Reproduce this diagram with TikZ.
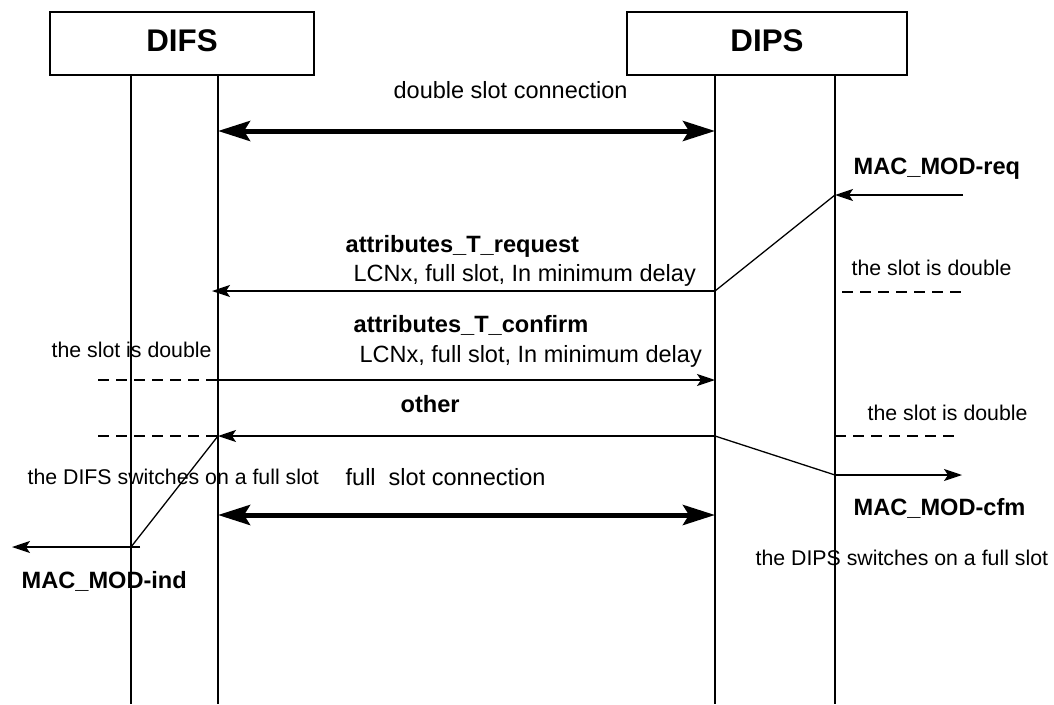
\documentclass[tikz,border=0pt]{standalone}
\usepackage{fontspec}
\setmainfont{Liberation Sans}
\usetikzlibrary{arrows.meta}

\begin{document}
\begin{tikzpicture}[x=1pt,y=-1pt,line width=1.3pt,
	>={Stealth[length=18pt,width=12pt,inset=4pt]},
	box/.style={draw,line width=1.6pt,minimum height=63pt,text depth=6pt,
		font=\fontsize{31.3}{36}\selectfont\bfseries},
	txt/.style={anchor=base west,inner sep=0pt,font=\fontsize{21.3}{25}\selectfont},
	bigtxt/.style={anchor=base west,inner sep=0pt,font=\fontsize{23.5}{28}\selectfont},
	msgname/.style={anchor=base west,inner sep=0pt,font=\fontsize{23.6}{28}\selectfont\bfseries},
	conn/.style={line width=5pt,
		{Stealth[length=32pt,width=20pt,inset=6pt]}-{Stealth[length=32pt,width=20pt,inset=6pt]}},
	slotline/.style={line width=2pt,dash pattern=on 11pt off 7pt}]

\useasboundingbox (0,0) rectangle (1054,704);

% entities
\node[box,minimum width=264pt] (difs) at (182,43.5) {DIFS};
\node[box,minimum width=280pt] (dips) at (767,43.5) {DIPS};

% lifelines
\coordinate (dl) at (131,704);
\coordinate (dr) at (218,704);
\coordinate (pl) at (715,704);
\coordinate (pr) at (835,704);
\draw (dl |- difs.south) -- (dl);
\draw (dr |- difs.south) -- (dr);
\draw (pl |- dips.south) -- (pl);
\draw (pr |- dips.south) -- (pr);

% double slot connection
\coordinate (ds1) at (218,131);
\coordinate (ds2) at (715,131);
\draw[conn] (ds1) -- (ds2);
\node[bigtxt] (dslbl) at (393,98.5) {double slot connection};

% MAC_MOD-req
\coordinate (req0) at (963,195);
\coordinate (req1) at (835,195);
\draw[->] (req0) -- (req1);
\node[msgname] (reqlbl) at (853,174) {MAC\_MOD-req};

% attributes_T_request
\coordinate (atr0) at (715,291);
\coordinate (atr1) at (212,291);
\draw (req1) -- (atr0);
\draw[->] (atr0) -- (atr1);
\node[msgname] (atrlbl) at (345,252) {attributes\_T\_request};
\node[bigtxt] (atrpar) at (353,281) {LCNx, full slot, In minimum delay};

\coordinate (sd1a) at (842,292);
\coordinate (sd1b) at (963,292);
\draw[slotline] (sd1a) -- (sd1b);
\node[txt] (sd1lbl) at (851,275) {the slot is double};

% attributes_T_confirm
\coordinate (atc0) at (218,380);
\coordinate (atc1) at (715,380);
\coordinate (sd2a) at (98,380);
\draw[->] (atc0) -- (atc1);
\draw[slotline] (sd2a) -- (atc0);
\node[msgname] (atclbl) at (353,332) {attributes\_T\_confirm};
\node[bigtxt] (atcpar) at (359,362) {LCNx, full slot, In minimum delay};
\node[txt] (sd2lbl) at (51,357) {the slot is double};

% other
\coordinate (oth0) at (715,436);
\coordinate (oth1) at (218,436);
\coordinate (sd3a) at (98,436);
\coordinate (sd4a) at (835,436);
\coordinate (sd4b) at (957,436);
\draw[->] (oth0) -- (oth1);
\draw[slotline] (sd3a) -- (oth1);
\draw[slotline] (sd4a) -- (sd4b);
\node[msgname] (othlbl) at (400,412) {other};
\node[txt] (sd4lbl) at (867,420) {the slot is double};

% MAC_MOD-cfm
\coordinate (cfm0) at (835,475);
\coordinate (cfm1) at (962,475);
\draw (oth0) -- (cfm0);
\draw[->] (cfm0) -- (cfm1);
\node[msgname] (cfmlbl) at (853,515) {MAC\_MOD-cfm};
\node[txt] (dipssw) at (755,565) {the DIPS switches on a full slot};

% MAC_MOD-ind
\coordinate (ind) at (131,547);
\coordinate (ind0) at (140,547);
\coordinate (ind1) at (12,547);
\draw (oth1) -- (ind);
\draw[->] (ind0) -- (ind1);
\node[msgname] (indlbl) at (21,588) {MAC\_MOD-ind};
\node[txt] (difssw) at (27,484) {the DIFS switches on a full slot};

% full slot connection
\coordinate (fs1) at (218,515);
\coordinate (fs2) at (715,515);
\draw[conn] (fs1) -- (fs2);
\node[bigtxt] (fslbl) at (345,485) {full\ \ slot connection};

\end{tikzpicture}
\end{document}
